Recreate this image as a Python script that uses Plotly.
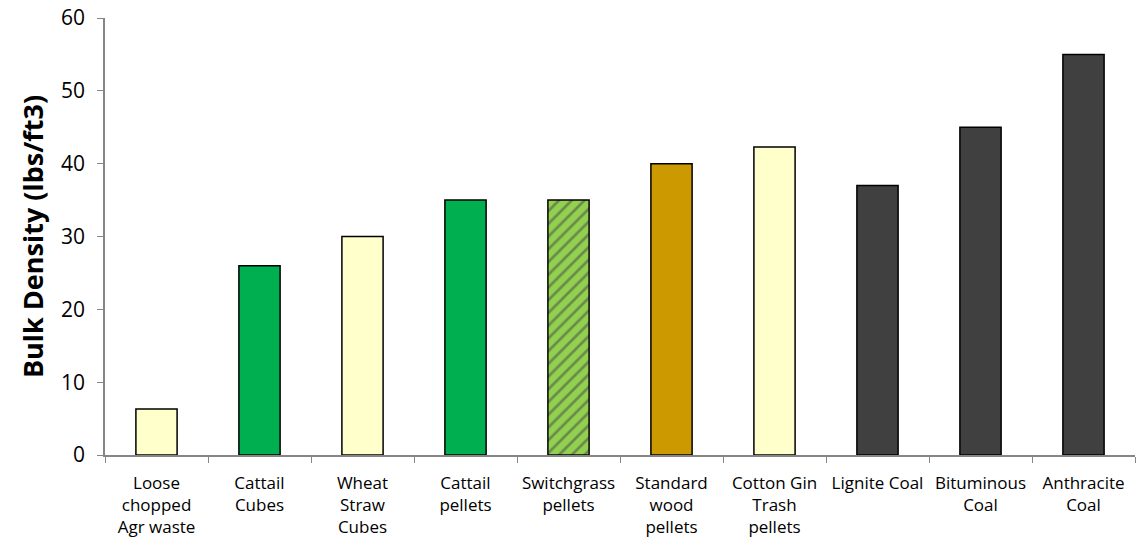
import plotly.graph_objects as go

categories = [
    "Loose<br>chopped<br>Agr waste",
    "Cattail<br>Cubes",
    "Wheat<br>Straw<br>Cubes",
    "Cattail<br>pellets",
    "Switchgrass<br>pellets",
    "Standard<br>wood<br>pellets",
    "Cotton Gin<br>Trash<br>pellets",
    "Lignite Coal",
    "Bituminous<br>Coal",
    "Anthracite<br>Coal",
]
bulk_density = [6.3, 26, 30, 35, 35, 40, 42.3, 37, 45, 55]

bar_colors = ["#FFFFCC", "#00B050", "#FFFFCC", "#00B050", "#92D050",
              "#CC9900", "#FFFFCC", "#404040", "#404040", "#404040"]
hatch = ["", "", "", "", "/", "", "", "", "", ""]

fig = go.Figure(
    go.Bar(
        x=categories,
        y=bulk_density,
        marker=dict(
            color=bar_colors,
            line=dict(color="#000000", width=1.5),
            pattern=dict(shape=hatch, fgcolor="#2F4F1F", size=9, solidity=0.3),
        ),
        width=0.4,
    )
)

fig.update_layout(
    width=1136,
    height=546,
    margin=dict(l=105, r=1, t=18, b=91),
    paper_bgcolor="white",
    plot_bgcolor="white",
    font=dict(family="Open Sans, Liberation Sans, sans-serif", color="#000000"),
    showlegend=False,
)

fig.update_yaxes(
    range=[0, 60],
    dtick=10,
    showgrid=False,
    zeroline=False,
    showline=True,
    linecolor="#868686",
    linewidth=1.5,
    ticks="outside",
    ticklen=6,
    tickcolor="#868686",
    tickfont=dict(size=21),
    ticklabelstandoff=8,
    title=dict(text="<b>Bulk Density (lbs/ft3)</b>", font=dict(size=27), standoff=10),
)

fig.update_xaxes(
    showgrid=False,
    showline=True,
    linecolor="#868686",
    linewidth=1.5,
    ticks="outside",
    tickson="boundaries",
    ticklen=6,
    tickcolor="#868686",
    tickfont=dict(size=17),
    ticklabelstandoff=12,
    tickangle=0,
)

fig.write_html("out.html")
